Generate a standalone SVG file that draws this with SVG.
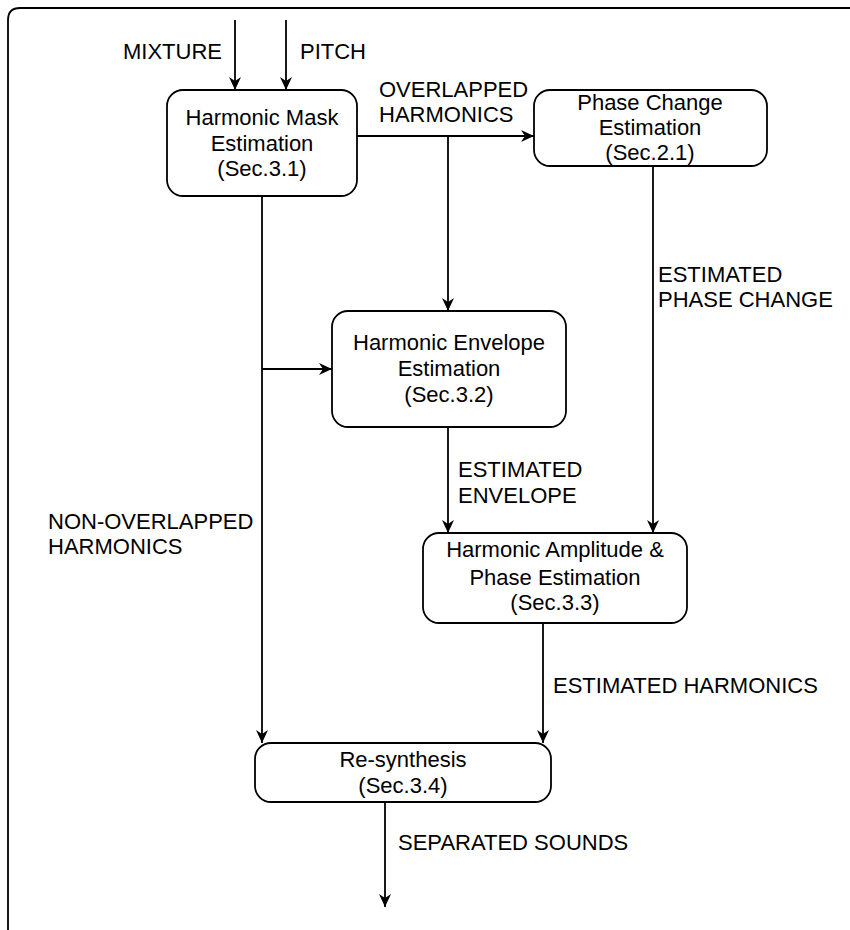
<svg xmlns="http://www.w3.org/2000/svg" width="850" height="930" viewBox="0 0 850 930">
<defs>
<marker id="arr" markerUnits="userSpaceOnUse" markerWidth="14" markerHeight="16" viewBox="0 0 14 16" refX="13" refY="8" orient="auto">
<path d="M0,2 L13,8 L0,14 L4,8 z" fill="#000"/>
</marker>
<style>
text{font-family:"Liberation Sans",Arial,Helvetica,sans-serif;font-size:22px;fill:#000}
.c{text-anchor:middle}
.box{fill:#fff;stroke:#000;stroke-width:1.8}
.ln{fill:none;stroke:#000;stroke-width:1.8}
.a{marker-end:url(#arr)}
</style>
</defs>
<rect width="850" height="930" fill="#fff"/>
<path d="M8,930 V20 Q8,8 20,8 H850" fill="none" stroke="#000" stroke-width="1.8"/>
<g id="connectors">
<line class="ln a" x1="235" y1="20" x2="235" y2="90"/>
<line class="ln a" x1="286" y1="20" x2="286" y2="90"/>
<line class="ln a" x1="357" y1="136" x2="534" y2="136"/>
<line class="ln a" x1="448" y1="136" x2="448" y2="311"/>
<line class="ln a" x1="262" y1="196" x2="262" y2="743"/>
<line class="ln a" x1="262" y1="369" x2="332" y2="369"/>
<line class="ln a" x1="653" y1="166" x2="653" y2="533"/>
<line class="ln a" x1="448" y1="427" x2="448" y2="533"/>
<line class="ln a" x1="543" y1="623" x2="543" y2="743"/>
<line class="ln a" x1="385" y1="802" x2="385" y2="907"/>
</g>
<g id="labels">
<text x="222" y="59" text-anchor="end">MIXTURE</text>
<text x="300" y="59">PITCH</text>
<text x="379" y="97">OVERLAPPED</text>
<text x="379" y="122">HARMONICS</text>
<text x="658" y="282">ESTIMATED</text>
<text x="658" y="307">PHASE CHANGE</text>
<text x="458" y="477">ESTIMATED</text>
<text x="458" y="503">ENVELOPE</text>
<text x="48" y="529">NON-OVERLAPPED</text>
<text x="48" y="554">HARMONICS</text>
<text x="553" y="693">ESTIMATED HARMONICS</text>
<text x="398" y="850">SEPARATED SOUNDS</text>
</g>
<g id="mask">
<rect class="box" x="167" y="90" width="190" height="106" rx="16"/>
<text class="c" x="262" y="125">Harmonic Mask</text>
<text class="c" x="262" y="151">Estimation</text>
<text class="c" x="262" y="176">(Sec.3.1)</text>
</g>
<g id="phase">
<rect class="box" x="534" y="90" width="233" height="76" rx="16"/>
<text class="c" x="650" y="110">Phase Change</text>
<text class="c" x="650" y="135">Estimation</text>
<text class="c" x="650" y="160">(Sec.2.1)</text>
</g>
<g id="envelope">
<rect class="box" x="332" y="311" width="234" height="116" rx="16"/>
<text class="c" x="449" y="350">Harmonic Envelope</text>
<text class="c" x="449" y="376">Estimation</text>
<text class="c" x="449" y="402">(Sec.3.2)</text>
</g>
<g id="amplitude">
<rect class="box" x="423" y="533" width="264" height="90" rx="16"/>
<text class="c" x="555" y="557">Harmonic Amplitude &amp;</text>
<text class="c" x="555" y="585">Phase Estimation</text>
<text class="c" x="555" y="610">(Sec.3.3)</text>
</g>
<g id="resynthesis">
<rect class="box" x="255" y="743" width="296" height="59" rx="16"/>
<text class="c" x="403" y="767">Re-synthesis</text>
<text class="c" x="403" y="793">(Sec.3.4)</text>
</g>
</svg>
